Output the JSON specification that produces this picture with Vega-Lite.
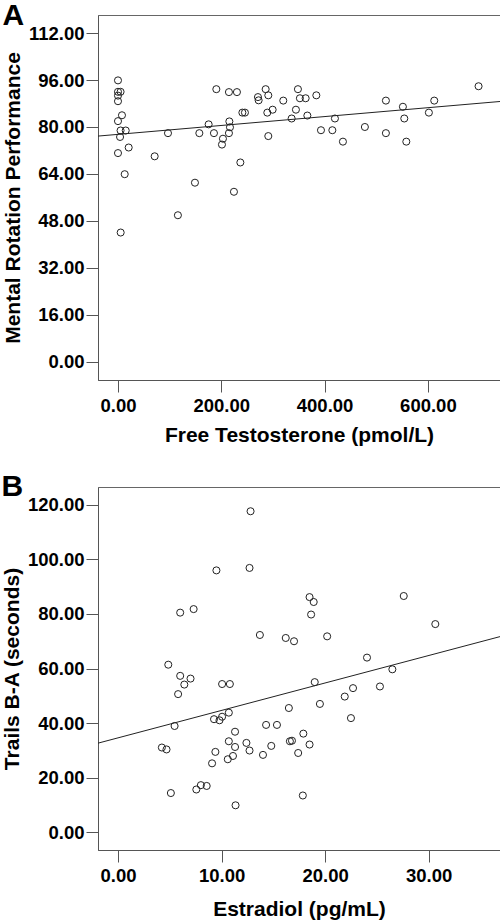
{
  "$schema": "https://vega.github.io/schema/vega-lite/v6.json",
  "padding": {"left": 0, "top": 0, "right": 0, "bottom": 0},
  "spacing": 25,
  "config": {
    "font": "Liberation Sans",
    "view": {"stroke": "#666666", "strokeWidth": 1},
    "axis": {
      "labelFont": "Liberation Sans", "labelFontSize": 18.5, "labelFontWeight": "bold", "labelColor": "#000000",
      "titleFont": "Liberation Sans", "titleFontSize": 21, "titleFontWeight": "bold", "titleColor": "#000000",
      "grid": false, "tickSize": 12, "tickColor": "#555555", "domainColor": "#555555",
      "format": ".2f"
    },
    "axisY": {"titlePadding": 5, "labelPadding": 2},
    "axisX": {"titlePadding": 10, "labelPadding": 4},
    "title": {"font": "Liberation Sans", "fontSize": 30, "fontWeight": "bold", "color": "#000000", "anchor": "start", "frame": "bounds", "baseline": "alphabetic"}
  },
  "vconcat": [
    {
      "width": 402,
      "height": 365,
      "title": {"text": "A", "offset": -16.3},
      "encoding": {
        "x": {"field": "testosterone", "type": "quantitative", "scale": {"domain": [-38.7, 739.6], "nice": false, "zero": false}, "axis": {"values": [0, 200, 400, 600], "title": "Free Testosterone (pmol/L)"}},
        "y": {"field": "rotation", "type": "quantitative", "scale": {"domain": [-6.3, 118.2], "nice": false, "zero": false}, "axis": {"values": [0, 16, 32, 48, 64, 80, 96, 112], "title": "Mental Rotation Performance"}}
      },
      "layer": [
        {
          "data": {"values": [
            {"testosterone": 0, "rotation": 95.9}, {"testosterone": 0, "rotation": 92}, {"testosterone": 5, "rotation": 92},
            {"testosterone": 0, "rotation": 90.7}, {"testosterone": 0, "rotation": 88.8}, {"testosterone": 7.7, "rotation": 84},
            {"testosterone": 0, "rotation": 82}, {"testosterone": 5, "rotation": 78.8}, {"testosterone": 15, "rotation": 78.8},
            {"testosterone": 4, "rotation": 76.6}, {"testosterone": 20.7, "rotation": 73}, {"testosterone": 0, "rotation": 71.1},
            {"testosterone": 13, "rotation": 63.9}, {"testosterone": 5.2, "rotation": 44}, {"testosterone": 71, "rotation": 70},
            {"testosterone": 96.8, "rotation": 77.9}, {"testosterone": 116, "rotation": 49.9}, {"testosterone": 149, "rotation": 61},
            {"testosterone": 157.5, "rotation": 77.9}, {"testosterone": 175.5, "rotation": 80.9}, {"testosterone": 185.8, "rotation": 77.9},
            {"testosterone": 190.4, "rotation": 92.9}, {"testosterone": 201.3, "rotation": 74}, {"testosterone": 203.2, "rotation": 76},
            {"testosterone": 214.8, "rotation": 91.9}, {"testosterone": 230.3, "rotation": 91.9}, {"testosterone": 215.6, "rotation": 81.9},
            {"testosterone": 216.8, "rotation": 79.9}, {"testosterone": 214.8, "rotation": 77.9}, {"testosterone": 236.9, "rotation": 67.9},
            {"testosterone": 224.5, "rotation": 57.9}, {"testosterone": 240.8, "rotation": 84.9}, {"testosterone": 245.8, "rotation": 84.9},
            {"testosterone": 271, "rotation": 90.2}, {"testosterone": 272.3, "rotation": 89.1}, {"testosterone": 285.9, "rotation": 92.9},
            {"testosterone": 291, "rotation": 90.8}, {"testosterone": 289.1, "rotation": 84.9}, {"testosterone": 299.4, "rotation": 85.9},
            {"testosterone": 291, "rotation": 76.9}, {"testosterone": 320, "rotation": 89}, {"testosterone": 336.2, "rotation": 82.9},
            {"testosterone": 344.5, "rotation": 85.9}, {"testosterone": 348.4, "rotation": 92.9}, {"testosterone": 352.2, "rotation": 89.8},
            {"testosterone": 363.3, "rotation": 89.8}, {"testosterone": 366.6, "rotation": 83.9}, {"testosterone": 384, "rotation": 90.8},
            {"testosterone": 393, "rotation": 78.9}, {"testosterone": 415, "rotation": 78.9}, {"testosterone": 420, "rotation": 82.9},
            {"testosterone": 435.5, "rotation": 75}, {"testosterone": 478, "rotation": 80}, {"testosterone": 518.7, "rotation": 89},
            {"testosterone": 518.7, "rotation": 77.9}, {"testosterone": 551.6, "rotation": 86.9}, {"testosterone": 554.3, "rotation": 82.9},
            {"testosterone": 558.2, "rotation": 75}, {"testosterone": 601.9, "rotation": 84.9}, {"testosterone": 612.3, "rotation": 89},
            {"testosterone": 698.1, "rotation": 93.9}
          ]},
          "mark": {"type": "point", "shape": "circle", "filled": false, "size": 50, "stroke": "#222222", "strokeWidth": 1, "opacity": 1}
        },
        {
          "data": {"values": [
            {"testosterone": -38.7, "rotation": 76.9},
            {"testosterone": 739.6, "rotation": 88.7}
          ]},
          "mark": {"type": "line", "color": "#222222", "strokeWidth": 1, "clip": true}
        }
      ]
    },
    {
      "width": 402,
      "height": 363,
      "title": {"text": "B", "offset": -14.8},
      "encoding": {
        "x": {"field": "estradiol", "type": "quantitative", "scale": {"domain": [-1.94, 36.9], "nice": false, "zero": false}, "axis": {"values": [0, 10, 20, 30], "title": "Estradiol (pg/mL)", "titlePadding": 14}},
        "y": {"field": "trails", "type": "quantitative", "scale": {"domain": [-6.6, 126.6], "nice": false, "zero": false}, "axis": {"values": [0, 20, 40, 60, 80, 100, 120], "title": "Trails B-A (seconds)"}}
      },
      "layer": [
        {
          "data": {"values": [
            {"estradiol": 6.0, "trails": 80.5}, {"estradiol": 7.3, "trails": 81.8}, {"estradiol": 13.7, "trails": 72.3},
            {"estradiol": 16.2, "trails": 71.2}, {"estradiol": 17.0, "trails": 70.0}, {"estradiol": 4.85, "trails": 61.4},
            {"estradiol": 6.0, "trails": 57.3}, {"estradiol": 7.0, "trails": 56.3}, {"estradiol": 6.4, "trails": 54.1},
            {"estradiol": 10.05, "trails": 54.3}, {"estradiol": 10.8, "trails": 54.3}, {"estradiol": 5.8, "trails": 50.6},
            {"estradiol": 16.5, "trails": 45.5}, {"estradiol": 9.27, "trails": 41.4}, {"estradiol": 9.8, "trails": 41.0},
            {"estradiol": 10.05, "trails": 42.3}, {"estradiol": 10.7, "trails": 43.8}, {"estradiol": 5.46, "trails": 38.9},
            {"estradiol": 14.3, "trails": 39.3}, {"estradiol": 15.35, "trails": 39.3}, {"estradiol": 11.3, "trails": 36.8},
            {"estradiol": 10.7, "trails": 33.3}, {"estradiol": 16.6, "trails": 33.3}, {"estradiol": 16.8, "trails": 33.5},
            {"estradiol": 12.4, "trails": 32.7}, {"estradiol": 4.23, "trails": 31.0}, {"estradiol": 4.68, "trails": 30.3},
            {"estradiol": 11.3, "trails": 31.2}, {"estradiol": 14.8, "trails": 31.6}, {"estradiol": 12.7, "trails": 29.9},
            {"estradiol": 9.4, "trails": 29.4}, {"estradiol": 14.0, "trails": 28.3}, {"estradiol": 11.1, "trails": 27.9},
            {"estradiol": 10.6, "trails": 26.7}, {"estradiol": 9.08, "trails": 25.2}, {"estradiol": 17.4, "trails": 29.0},
            {"estradiol": 12.8, "trails": 117.7}, {"estradiol": 12.7, "trails": 96.9}, {"estradiol": 9.5, "trails": 96.0},
            {"estradiol": 5.1, "trails": 14.3}, {"estradiol": 7.56, "trails": 15.6}, {"estradiol": 8.0, "trails": 17.2},
            {"estradiol": 8.56, "trails": 16.9}, {"estradiol": 11.35, "trails": 9.8}, {"estradiol": 17.85, "trails": 13.4},
            {"estradiol": 18.5, "trails": 86.2}, {"estradiol": 18.9, "trails": 84.4}, {"estradiol": 18.65, "trails": 79.8},
            {"estradiol": 27.6, "trails": 86.6}, {"estradiol": 30.65, "trails": 76.3}, {"estradiol": 20.2, "trails": 71.8},
            {"estradiol": 24.05, "trails": 64.0}, {"estradiol": 26.5, "trails": 59.7}, {"estradiol": 19.0, "trails": 55.0},
            {"estradiol": 25.3, "trails": 53.4}, {"estradiol": 22.7, "trails": 52.8}, {"estradiol": 21.9, "trails": 49.7},
            {"estradiol": 19.5, "trails": 47.0}, {"estradiol": 22.5, "trails": 41.8}, {"estradiol": 17.9, "trails": 36.1},
            {"estradiol": 18.5, "trails": 32.1}
          ]},
          "mark": {"type": "point", "shape": "circle", "filled": false, "size": 50, "stroke": "#222222", "strokeWidth": 1, "opacity": 1}
        },
        {
          "data": {"values": [
            {"estradiol": -1.94, "trails": 32.6},
            {"estradiol": 36.9, "trails": 71.7}
          ]},
          "mark": {"type": "line", "color": "#222222", "strokeWidth": 1, "clip": true}
        }
      ]
    }
  ]
}
